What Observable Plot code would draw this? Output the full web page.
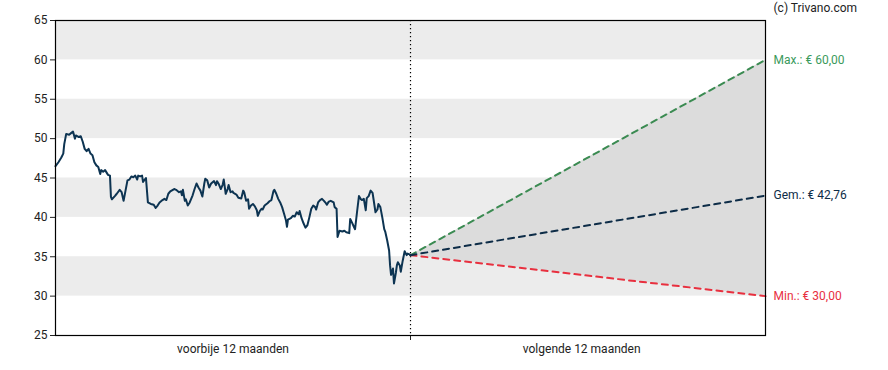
<!DOCTYPE html>
<html>
<head>
<meta charset="utf-8">
<script src="https://cdn.jsdelivr.net/npm/d3@7"></script>
<script src="https://cdn.jsdelivr.net/npm/@observablehq/plot@0.6"></script>
<style>
  html, body { margin: 0; padding: 0; background: #fff; }
  #chart svg { display: block; }
</style>
</head>
<body>
<div id="chart"></div>
<script>
// Past 12 months: day offset (relative to today) and price
const pastDays = [-365,-362,-359,-357,-356,-354,-351,-349,-347,-345,-344,-341,-339,-337,-335,-333,-331,-329,-327,-325,-323,-321,-319,-318,-316,-314,-311,-309,-308,-307,-304,-302,-299,-297,-295,-293,-291,-289,-287,-285,-283,-281,-280,-278,-276,-275,-272,-270,-267,-264,-262,-260,-258,-255,-253,-251,-249,-247,-243,-241,-238,-236,-235,-234,-232,-231,-229,-227,-224,-222,-220,-218,-216,-214,-212,-211,-209,-207,-205,-202,-200,-199,-197,-195,-193,-192,-190,-188,-187,-185,-183,-182,-179,-177,-174,-172,-171,-169,-167,-166,-164,-162,-160,-158,-157,-155,-153,-152,-150,-147,-145,-143,-141,-140,-138,-136,-134,-132,-130,-128,-127,-126,-123,-121,-119,-117,-115,-114,-112,-110,-108,-106,-104,-102,-100,-98,-97,-95,-93,-91,-89,-87,-86,-84,-82,-79,-78,-76,-75,-73,-70,-68,-66,-63,-62,-60,-58,-57,-55,-53,-51,-50,-48,-46,-45,-43,-41,-39,-38,-36,-34,-33,-31,-29,-27,-26,-24,-22,-21,-20,-18,-17,-15,-14,-13,-11,-10,-8,-6,-4,-3,-1,0];
const pastPrices = [46.5,47.0,47.6,48.1,49.3,50.6,50.5,50.7,50.9,50.0,50.4,50.2,50.3,49.6,48.7,48.4,48.7,48.1,47.9,47.0,46.6,46.4,45.5,46.0,45.8,46.0,45.4,45.3,42.6,42.3,42.7,43.0,43.5,43.2,42.1,43.4,44.7,44.8,45.2,45.1,45.3,44.8,45.3,45.2,45.3,44.5,45.0,41.9,41.7,41.6,41.2,41.5,41.9,42.2,42.35,42.2,43.0,43.3,43.6,43.5,43.2,43.3,42.8,43.5,42.1,42.3,41.5,41.9,42.8,43.6,44.3,43.8,43.4,42.65,44.3,44.9,44.7,43.8,44.3,44.6,44.1,44.6,44.2,43.6,44.2,44.8,43.0,43.6,44.1,43.2,43.3,43.1,42.9,42.5,42.4,43.4,43.2,42.1,42.3,41.1,41.5,41.7,41.4,40.9,40.2,40.8,41.1,41.0,41.5,41.8,42.05,42.2,43.3,43.5,43.0,42.35,41.9,41.3,40.45,39.6,38.8,39.7,39.9,40.2,40.1,40.65,40.4,40.8,39.9,39.25,38.7,39.0,40.0,41.1,41.5,41.3,41.0,41.9,42.2,42.35,42.1,41.8,41.6,42.0,42.1,41.9,41.3,41.1,37.5,38.3,38.2,38.3,38.1,38.0,39.8,39.3,38.75,38.5,40.65,42.7,42.3,42.2,42.35,40.9,42.45,42.7,43.4,43.1,42.3,40.65,41.0,41.7,41.3,40.0,38.5,38.2,37.1,35.8,33.9,32.7,33.5,31.6,33.0,33.9,34.3,33.9,33.1,34.5,35.7,35.2,35.4,35.3,35.2];

// Forecast for the next 12 months
const forecastDays = [0, 365];
const startPrice = 35.2;
const targetMax = 60.00;
const targetAvg = 42.76;
const targetMin = 30.00;

// Labels
const periodLabels = ["voorbije 12 maanden", "volgende 12 maanden"];
const periodCenters = [-182.5, 176];
const yTicks = [25, 30, 35, 40, 45, 50, 55, 60, 65];
const bandLows = [30, 40, 50, 60];
const credit = "(c) Trivano.com";

const past = pastDays.map((d, i) => ({d, v: pastPrices[i]}));
const fmt = v => v.toFixed(2).replace(".", ",");
const fc = forecastDays.map((d, i) => ({
  d,
  max: i === 0 ? startPrice : targetMax,
  avg: i === 0 ? startPrice : targetAvg,
  min: i === 0 ? startPrice : targetMin
}));
const endLabels = [
  {v: targetMax, t: `Max.: € ${fmt(targetMax)}`, c: "#3b9a5c"},
  {v: targetAvg, t: `Gem.: € ${fmt(targetAvg)}`, c: "#0d2c47"},
  {v: targetMin, t: `Min.: € ${fmt(targetMin)}`, c: "#e8303f"}
];

const chart = Plot.plot({
  width: 888,
  height: 370,
  marginLeft: 55,
  marginRight: 123,
  marginTop: 20,
  marginBottom: 35,
  style: {fontFamily: "Roboto, sans-serif", fontSize: "12px", color: "#222", background: "#fff", overflow: "visible"},
  x: {domain: [-365, 365]},
  y: {domain: [25, 65]},
  marks: [
    Plot.rect(bandLows, {y1: d => d, y2: d => d + 5, fill: "#ececec"}),
    Plot.areaY(fc, {x: "d", y1: "min", y2: "max", fill: "#dcdcdc"}),
    Plot.ruleX([0], {stroke: "#000", strokeDasharray: "1.2,2.8", strokeWidth: 1.2}),
    Plot.line(fc, {x: "d", y: "max", stroke: "#3b8b52", strokeWidth: 2, strokeDasharray: "6,5"}),
    Plot.line(fc, {x: "d", y: "min", stroke: "#e8303f", strokeWidth: 2, strokeDasharray: "6,5"}),
    Plot.line(fc, {x: "d", y: "avg", stroke: "#0d2c47", strokeWidth: 2, strokeDasharray: "6,5"}),
    Plot.line(past, {x: "d", y: "v", stroke: "#0d3452", strokeWidth: 2, strokeLinejoin: "round"}),
    Plot.axisY({ticks: yTicks, tickSize: 5, tickPadding: 3, label: null, tickFormat: d => String(d)}),
    Plot.axisX({ticks: [0], tickSize: 5, tickFormat: () => "", label: null}),
    Plot.axisX({ticks: periodCenters, tickSize: 0, tickPadding: 9, label: null,
      tickFormat: d => periodLabels[periodCenters.indexOf(d)]}),
    Plot.frame({stroke: "#000", strokeWidth: 1.2}),
    Plot.text(endLabels, {x: () => 365, y: "v", text: "t", fill: "c", textAnchor: "start", dx: 8, fontSize: 12}),
    Plot.text([credit], {x: () => 365, y: () => 65, text: d => d, textAnchor: "start", dx: 8, dy: -12, fill: "#222", fontSize: 12})
  ]
});
document.getElementById("chart").appendChild(chart);
</script>
</body>
</html>
